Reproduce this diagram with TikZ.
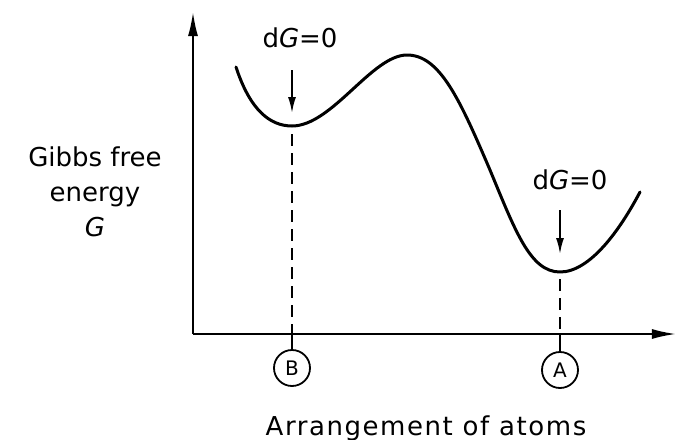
\documentclass[tikz,border=0pt]{standalone}
\usepackage{fontspec}
\setmainfont{DejaVu Sans}
\usetikzlibrary{arrows.meta}

\tikzset{
  axis/.style={line width=1pt, -{Latex[length=12pt,width=5pt]}},
  curve/.style={line width=1.5pt, line cap=round, line join=round},
  drop/.style={line width=0.8pt, dash pattern=on 6pt off 3.5pt},
  hint/.style={line width=0.9pt, -{Latex[length=8pt,width=4pt]}},
  state/.style={draw, circle, line width=0.9pt, minimum size=18pt, inner sep=0pt,
    font=\fontsize{10}{12}\selectfont},
}

\begin{document}
\begin{tikzpicture}[x=0.5pt, y=-0.5pt, every node/.style={font=\fontsize{13}{17.5}\selectfont}]
  \useasboundingbox (0,0) rectangle (677,440);

  % axes
  \coordinate (origin) at (193,334);
  \coordinate (ytop) at (193,12);
  \coordinate (xend) at (676,334);
  \draw[axis] (origin) -- (ytop);
  \draw[axis] (origin) -- (xend);

  % energy curve: start, min B, max, min A, end
  \coordinate (start) at (236,67);
  \coordinate (botB) at (292,126);
  \coordinate (peak) at (407,55);
  \coordinate (slope) at (490,170);
  \coordinate (botA) at (560,272);
  \coordinate (finish) at (640,192);
  \draw[curve] (start) .. controls (250,110) and (270,126) .. (botB)
    .. controls (332,126) and (372,55) .. (peak)
    .. controls (440,55) and (460,100) .. (slope)
    .. controls (515,230) and (530,272) .. (botA)
    .. controls (590,272) and (620,230) .. (finish);

  % metastable state B
  \coordinate (minB) at (292,134);
  \coordinate (tickB) at (292,334);
  \node[state] (circB) at (292,368) {B};
  \draw[drop] (minB) -- (tickB);
  \draw[line width=0.8pt] (tickB) -- (circB);
  \coordinate (arrBtop) at (292,70);
  \coordinate (arrBtip) at (292,113);
  \draw[hint] (arrBtop) -- (arrBtip);
  \node (dGB) at (300,38) {d\textit{G}=0};

  % stable state A
  \coordinate (minA) at (560,279);
  \coordinate (tickA) at (560,334);
  \node[state] (circA) at (560,370) {A};
  \draw[drop] (minA) -- (tickA);
  \draw[line width=0.8pt] (tickA) -- (circA);
  \coordinate (arrAtop) at (560,210);
  \coordinate (arrAtip) at (560,254);
  \draw[hint] (arrAtop) -- (arrAtip);
  \node (dGA) at (570,180) {d\textit{G}=0};

  % axis labels
  \node[align=center] (ylabel) at (95,192) {Gibbs free\\energy\\\textit{G}};
  \node (xlabel) at (426,428) {\addfontfeature{LetterSpace=6}Arrangement of atoms};
\end{tikzpicture}
\end{document}
